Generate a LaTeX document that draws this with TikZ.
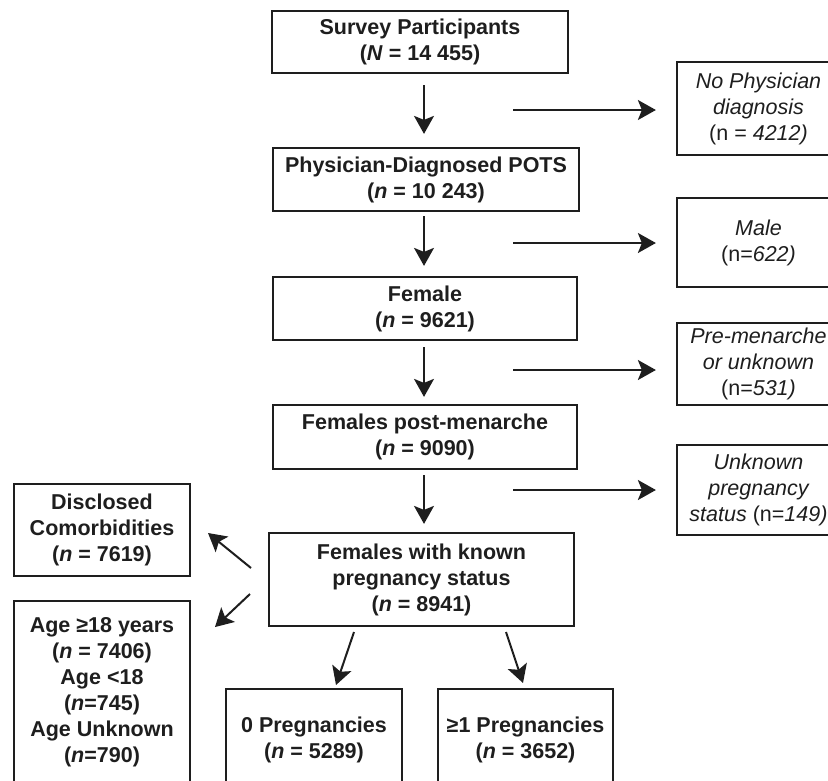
\documentclass[tikz,border=0pt]{standalone}
\usepackage{fontspec}
\setmainfont{Liberation Sans}
\usetikzlibrary{arrows.meta}
\definecolor{ink}{HTML}{1E1E1E}

\begin{document}
\begin{tikzpicture}[x=1pt,y=-1pt,
	box/.style={draw=ink, line width=2.2pt, text=ink, align=center, inner sep=0pt,
		font=\fontsize{21.5}{26}\selectfont\bfseries},
	exbox/.style={box, minimum width=163pt, font=\fontsize{21.5}{26}\selectfont\itshape},
	arr/.style={draw=ink, line width=2pt, -{Stealth[length=18pt,width=20pt,inset=4pt]}}]
				\useasboundingbox (0,0) rectangle (828,780);
				\clip (0,0) rectangle (828,780);
				% main column
				\node[box, minimum width=296pt, minimum height=62pt] (survey) at (420,42) {Survey Participants\\(\textit{N} = 14 455)};
				\node[box, minimum width=306pt, minimum height=63pt] (pots) at (426,179.5) {Physician-Diagnosed POTS\\(\textit{n} = 10 243)};
				\node[box, minimum width=304pt, minimum height=63pt] (female) at (425,308.5) {Female\\(\textit{n} = 9621)};
				\node[box, minimum width=304pt, minimum height=64pt] (post) at (425,437) {Females post-menarche\\(\textit{n} = 9090)};
				\node[box, minimum width=305pt, minimum height=93pt] (known) at (421.5,579.5) {Females with known\\pregnancy status\\(\textit{n} = 8941)};
				% excluded
				\node[exbox, minimum height=93pt] (nophys) at (758.5,108.5) {No Physician\\diagnosis\\{\upshape(n = }4212)};
				\node[exbox, minimum height=89pt] (male) at (758.5,242.5) {Male\\{\upshape(n=}622)};
				\node[exbox, minimum height=82pt] (premen) at (758.5,364) {Pre-menarche\\or unknown\\{\upshape(n=}531)};
				\node[exbox, minimum height=90pt] (unkpreg) at (758.5,490) {Unknown\\pregnancy\\status {\upshape(n=}149)};
				% sub-groups
				\node[box, minimum width=176pt, minimum height=92pt] (comorb) at (102,530) {Disclosed\\Comorbidities\\(\textit{n} = 7619)};
				\node[box, minimum width=176pt, minimum height=182pt] (age) at (102,692) {Age ≥18 years\\(\textit{n} = 7406)\\Age <18\\(\textit{n}=745)\\Age Unknown\\(\textit{n}=790)};
				\node[box, minimum width=176pt, minimum height=101pt] (zero) at (314,739.5) {0 Pregnancies\\(\textit{n} = 5289)};
				\node[box, minimum width=175pt, minimum height=101pt] (more) at (525.5,739.5) {≥1 Pregnancies\\(\textit{n} = 3652)};
				% arrow tails
				\coordinate (V1) at (424,85);
				\coordinate (V2) at (424,216);
				\coordinate (V3) at (424,347);
				\coordinate (V4) at (424,475);
				\coordinate (H1) at (513,110);
				\coordinate (H2) at (513,243);
				\coordinate (H3) at (513,370);
				\coordinate (H4) at (513,490);
				\coordinate (C1) at (251,568);
				\coordinate (C2) at (208,533);
				\coordinate (A1) at (250,594);
				\coordinate (A2) at (215,627);
				\coordinate (Z1) at (354,632);
				\coordinate (Z2) at (336,685);
				\coordinate (M1) at (506,632);
				\coordinate (M2) at (523,683);
				\draw[arr, shorten >=13pt] (V1) to (V1 |- pots.north);
				\draw[arr, shorten >=10pt] (V2) to (V2 |- female.north);
				\draw[arr, shorten >=7pt] (V3) to (V3 |- post.north);
				\draw[arr, shorten >=8pt] (V4) to (V4 |- known.north);
				\draw[arr, shorten >=20pt] (H1) to (H1 -| nophys.west);
				\draw[arr, shorten >=20pt] (H2) to (H2 -| male.west);
				\draw[arr, shorten >=20pt] (H3) to (H3 -| premen.west);
				\draw[arr, shorten >=20pt] (H4) to (H4 -| unkpreg.west);
				\draw[arr] (C1) to (C2);
				\draw[arr] (A1) to (A2);
				\draw[arr] (Z1) to (Z2);
				\draw[arr] (M1) to (M2);
			\end{tikzpicture}
\end{document}
